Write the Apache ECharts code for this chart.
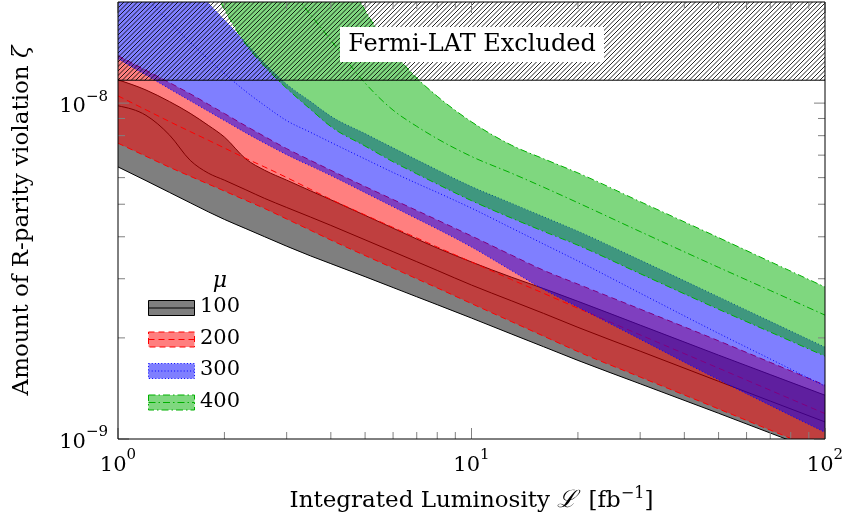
<!DOCTYPE html>
<html>
<head>
<meta charset="utf-8">
<script src="https://cdn.jsdelivr.net/npm/echarts@6.0.0/dist/echarts.min.js"></script>
<style>
html,body{margin:0;padding:0;background:#fff;}
#c{width:845px;height:525px;}
</style>
</head>
<body>
<div id="c"></div>
<script>
// ---------------- data ----------------
const X_MIN = 1, X_MAX = 100;
const Y_MIN = 1e-9, Y_MAX = 2e-8;
const fermiLimit = 1.17e-8;          // Fermi-LAT excluded above this value
const fermiText = 'Fermi-LAT Excluded';

const xMajorTicks = [1, 10, 100];
const xMinorTicks = [2, 3, 4, 5, 6, 7, 8, 9, 20, 30, 40, 50, 60, 70, 80, 90];
const yMajorTicks = [1e-9, 1e-8];
const yMinorTicks = [2e-9, 3e-9, 4e-9, 5e-9, 6e-9, 7e-9, 8e-9, 9e-9];

const muValues = ['100', '200', '300', '400'];

// luminosity samples for the mu = 100, 200, 300 bands
const lumiA = [1, 1.2, 1.4, 1.6, 1.8, 2, 2.3, 2.6, 3, 3.5, 4, 5, 6, 7, 8, 10, 13, 16, 20, 30, 50, 70, 100];

const lower100 = [6.457e-9, 5.877e-9, 5.418e-9, 5.050e-9, 4.747e-9, 4.505e-9, 4.229e-9, 4.000e-9, 3.750e-9, 3.510e-9, 3.327e-9, 3.043e-9, 2.824e-9, 2.651e-9, 2.511e-9, 2.291e-9, 2.052e-9, 1.882e-9, 1.714e-9, 1.460e-9, 1.193e-9, 1.042e-9, 0.903e-9];
const center100 = [9.817e-9, 9.196e-9, 8.024e-9, 6.757e-9, 6.189e-9, 5.897e-9, 5.518e-9, 5.203e-9, 4.890e-9, 4.581e-9, 4.325e-9, 3.917e-9, 3.611e-9, 3.372e-9, 3.176e-9, 2.873e-9, 2.577e-9, 2.365e-9, 2.150e-9, 1.826e-9, 1.485e-9, 1.297e-9, 1.124e-9];
const upper100 = [11.73e-9, 10.94e-9, 10.10e-9, 9.325e-9, 8.587e-9, 7.925e-9, 6.817e-9, 6.310e-9, 5.897e-9, 5.484e-9, 5.155e-9, 4.632e-9, 4.242e-9, 3.939e-9, 3.703e-9, 3.365e-9, 3.030e-9, 2.804e-9, 2.570e-9, 2.183e-9, 1.777e-9, 1.555e-9, 1.350e-9];

const lower200 = [7.598e-9, 6.945e-9, 6.440e-9, 6.058e-9, 5.742e-9, 5.472e-9, 5.134e-9, 4.854e-9, 4.519e-9, 4.184e-9, 3.912e-9, 3.517e-9, 3.228e-9, 2.999e-9, 2.817e-9, 2.530e-9, 2.234e-9, 2.024e-9, 1.821e-9, 1.529e-9, 1.229e-9, 1.063e-9, 0.913e-9];
const center200 = [10.51e-9, 9.550e-9, 8.806e-9, 8.228e-9, 7.757e-9, 7.352e-9, 6.845e-9, 6.452e-9, 6.005e-9, 5.541e-9, 5.170e-9, 4.645e-9, 4.263e-9, 3.969e-9, 3.728e-9, 3.365e-9, 2.981e-9, 2.714e-9, 2.451e-9, 2.042e-9, 1.625e-9, 1.397e-9, 1.190e-9];
const upper200 = [13.84e-9, 12.52e-9, 11.50e-9, 10.66e-9, 9.924e-9, 9.311e-9, 8.551e-9, 7.951e-9, 7.318e-9, 6.757e-9, 6.310e-9, 5.643e-9, 5.163e-9, 4.790e-9, 4.488e-9, 4.022e-9, 3.524e-9, 3.178e-9, 2.891e-9, 2.436e-9, 1.960e-9, 1.691e-9, 1.446e-9];

const lower300 = [13.56e-9, 12.12e-9, 11.02e-9, 10.16e-9, 9.459e-9, 8.875e-9, 8.152e-9, 7.598e-9, 7.022e-9, 6.504e-9, 6.087e-9, 5.413e-9, 4.913e-9, 4.528e-9, 4.220e-9, 3.728e-9, 3.169e-9, 2.787e-9, 2.470e-9, 1.982e-9, 1.501e-9, 1.259e-9, 1.047e-9];
const upper300 = [44.77e-9, 34.72e-9, 28.07e-9, 23.31e-9, 19.88e-9, 17.67e-9, 15.10e-9, 13.12e-9, 11.39e-9, 10.12e-9, 9.141e-9, 8.113e-9, 7.358e-9, 6.780e-9, 6.322e-9, 5.643e-9, 5.029e-9, 4.587e-9, 4.156e-9, 3.409e-9, 2.649e-9, 2.240e-9, 1.877e-9];
const lumiC300 = [1.2, 1.4, 1.6, 1.8, 2, 2.3, 2.6, 3, 3.5, 4, 5, 6, 7, 8, 10, 13, 16, 20, 30, 50, 70, 100];
const center300 = [20.61e-9, 17.41e-9, 15.17e-9, 13.53e-9, 12.25e-9, 10.83e-9, 9.836e-9, 8.869e-9, 8.190e-9, 7.640e-9, 6.817e-9, 6.215e-9, 5.770e-9, 5.421e-9, 4.866e-9, 4.242e-9, 3.806e-9, 3.388e-9, 2.718e-9, 2.063e-9, 1.731e-9, 1.436e-9];

// mu = 400 band
const lumiB = [1.8, 2, 2.3, 2.6, 3, 3.5, 4, 5, 6, 7, 8, 10, 13, 16, 20, 30, 50, 70, 100];
const lower400 = [23.64e-9, 19.02e-9, 14.98e-9, 12.86e-9, 11.07e-9, 9.596e-9, 8.516e-9, 7.450e-9, 6.688e-9, 6.159e-9, 5.742e-9, 5.124e-9, 4.544e-9, 4.151e-9, 3.775e-9, 3.106e-9, 2.433e-9, 2.082e-9, 1.765e-9];
const upper400 = [316.6e-9, 224.6e-9, 143.8e-9, 98.56e-9, 65.28e-9, 43.25e-9, 30.68e-9, 18.87e-9, 14.25e-9, 11.87e-9, 10.48e-9, 8.795e-9, 7.486e-9, 6.826e-9, 6.197e-9, 5.089e-9, 3.977e-9, 3.373e-9, 2.834e-9];
const lumiC400 = [3, 3.5, 4, 5, 6, 7, 8, 10, 13, 16, 20, 30, 50, 70, 100];
const center400 = [22.45e-9, 18.36e-9, 15.40e-9, 11.47e-9, 9.530e-9, 8.528e-9, 7.834e-9, 6.936e-9, 6.180e-9, 5.617e-9, 5.050e-9, 4.145e-9, 3.243e-9, 2.768e-9, 2.338e-9];

// ---------------- styling ----------------
const FONT = '"DejaVu Serif", "Liberation Serif", serif';
const STYLE = {
  '100': { color: '#000000', fill: 'rgba(0,0,0,0.5)', dash: null },
  '200': { color: '#ff0000', fill: 'rgba(255,0,0,0.5)', dash: [6, 4] },
  '300': { color: '#0000ff', fill: 'rgba(0,0,255,0.5)', dash: [1, 2.2] },
  '400': { color: '#00b000', fill: 'rgba(0,176,0,0.5)', dash: [7, 3, 1.5, 3] }
};

// monotone-in-x cubic curve through screen points (drawing only)
function monoSegs(P) {
  const n = P.length, m = new Array(n), sec = [];
  const sgn = v => (v < 0 ? -1 : v > 0 ? 1 : 0);
  for (let i = 0; i < n - 1; i++) sec.push((P[i + 1][1] - P[i][1]) / (P[i + 1][0] - P[i][0]));
  for (let i = 1; i < n - 1; i++) {
    const h0 = P[i][0] - P[i - 1][0], h1 = P[i + 1][0] - P[i][0], s0 = sec[i - 1], s1 = sec[i];
    const p = (s0 * h1 + s1 * h0) / (h0 + h1);
    m[i] = (sgn(s0) + sgn(s1)) * Math.min(Math.abs(s0), Math.abs(s1), 0.5 * Math.abs(p)) || 0;
  }
  m[0] = n > 2 ? (3 * sec[0] - m[1]) / 2 : sec[0];
  m[n - 1] = n > 2 ? (3 * sec[n - 2] - m[n - 2]) / 2 : sec[n - 2];
  const segs = [];
  for (let i = 0; i < n - 1; i++) {
    const dx = (P[i + 1][0] - P[i][0]) / 3;
    segs.push([P[i], [P[i][0] + dx, P[i][1] + m[i] * dx], [P[i + 1][0] - dx, P[i + 1][1] - m[i + 1] * dx], P[i + 1]]);
  }
  return segs;
}
const f = v => v.toFixed(2);
function fwdPath(segs, start) {
  let d = (start ? 'M ' : 'L ') + f(segs[0][0][0]) + ' ' + f(segs[0][0][1]);
  segs.forEach(s => { d += ' C ' + f(s[1][0]) + ' ' + f(s[1][1]) + ' ' + f(s[2][0]) + ' ' + f(s[2][1]) + ' ' + f(s[3][0]) + ' ' + f(s[3][1]); });
  return d;
}
function bwdPath(segs) {
  const last = segs[segs.length - 1][3];
  let d = ' L ' + f(last[0]) + ' ' + f(last[1]);
  for (let i = segs.length - 1; i >= 0; i--) {
    const s = segs[i];
    d += ' C ' + f(s[2][0]) + ' ' + f(s[2][1]) + ' ' + f(s[1][0]) + ' ' + f(s[1][1]) + ' ' + f(s[0][0]) + ' ' + f(s[0][1]);
  }
  return d;
}

function band(key, xs, lo, up, xc, ce) {
  const st = STYLE[key];
  return {
    type: 'custom', name: 'mu ' + key, coordinateSystem: 'cartesian2d', clip: true, silent: true,
    animation: false, z: 2,
    data: [[xs[0], lo[0]]],
    renderItem: function (params, api) {
      const upS = monoSegs(xs.map((x, i) => api.coord([x, up[i]])));
      const loS = monoSegs(xs.map((x, i) => api.coord([x, lo[i]])));
      const cS = monoSegs(xc.map((x, i) => api.coord([x, ce[i]])));
      const line = { stroke: st.color, lineWidth: 1, lineDash: st.dash, fill: null };
      return { type: 'group', children: [
        { type: 'path', shape: { pathData: fwdPath(upS, true) + bwdPath(loS) + ' Z' }, style: { fill: st.fill, stroke: null } },
        { type: 'path', shape: { pathData: fwdPath(loS, true) }, style: line },
        { type: 'path', shape: { pathData: fwdPath(upS, true) }, style: line },
        { type: 'path', shape: { pathData: fwdPath(cS, true) }, style: line }
      ]};
    }
  };
}

// hatch pattern (north east lines)
const hatch = document.createElement('canvas');
hatch.width = 9; hatch.height = 9;
(function () {
  const g = hatch.getContext('2d');
  g.strokeStyle = '#000'; g.lineWidth = 0.85;
  for (let k = -3; k <= 3; k++) {
    const a = k * 4.5;
    g.beginPath(); g.moveTo(a, 9); g.lineTo(a + 9, 0); g.stroke();
  }
})();

function powLabel(v) {
  const e = Math.log10(v), r = Math.round(e);
  if (Math.abs(e - r) > 1e-6) return '';
  return '{b|10}{s|' + (r < 0 ? '\u2212' : '') + Math.abs(r) + '}';
}
const labelRich = {
  b: { fontFamily: FONT, fontSize: 21, color: '#000', lineHeight: 28, verticalAlign: 'bottom' },
  s: { fontFamily: FONT, fontSize: 15, color: '#000', lineHeight: 18, verticalAlign: 'top' }
};

const series = [
  band('100', lumiA, lower100, upper100, lumiA, center100),
  band('200', lumiA, lower200, upper200, lumiA, center200),
  band('300', lumiA, lower300, upper300, lumiC300, center300),
  band('400', lumiB, lower400, upper400, lumiC400, center400)
];

// hatched Fermi-LAT region
series.push({
  type: 'custom', coordinateSystem: 'cartesian2d', silent: true, z: 5, clip: true, animation: false,
  data: [[X_MIN, fermiLimit]],
  renderItem: function (params, api) {
    const p0 = api.coord([X_MIN, Y_MAX]);
    const p1 = api.coord([X_MAX, fermiLimit]);
    return { type: 'group', children: [
      { type: 'rect', shape: { x: p0[0], y: p0[1], width: p1[0] - p0[0], height: p1[1] - p0[1] },
        style: { fill: { image: hatch, repeat: 'repeat' }, stroke: null } },
      { type: 'line', shape: { x1: p0[0], y1: p1[1], x2: p1[0], y2: p1[1] }, style: { stroke: '#000', lineWidth: 1 } }
    ]};
  }
});

// ticks on all four sides + frame
series.push({
  type: 'custom', coordinateSystem: 'cartesian2d', silent: true, z: 6, clip: false, animation: false,
  data: [[X_MIN, Y_MIN]],
  renderItem: function (params, api) {
    const a = api.coord([X_MIN, Y_MIN]), b = api.coord([X_MAX, Y_MAX]);
    const left = a[0], bottom = a[1], right = b[0], top = b[1];
    const ch = [];
    const tk = (x1, y1, x2, y2) => ch.push({ type: 'line', shape: { x1, y1, x2, y2 }, style: { stroke: '#808080', lineWidth: 1 } });
    xMajorTicks.forEach(v => { const x = api.coord([v, Y_MIN])[0]; tk(x, bottom, x, bottom - 11); tk(x, top, x, top + 11); });
    xMinorTicks.forEach(v => { const x = api.coord([v, Y_MIN])[0]; tk(x, bottom, x, bottom - 7); tk(x, top, x, top + 7); });
    yMajorTicks.forEach(v => { const y = api.coord([X_MIN, v])[1]; tk(left, y, left + 11, y); tk(right, y, right - 11, y); });
    yMinorTicks.forEach(v => { const y = api.coord([X_MIN, v])[1]; tk(left, y, left + 7, y); tk(right, y, right - 7, y); });
    ch.push({ type: 'rect', shape: { x: left, y: top, width: right - left, height: bottom - top },
              style: { fill: null, stroke: '#000', lineWidth: 1 } });
    return { type: 'group', children: ch };
  }
});

// legend (drawn as graphics)
const legendY = [308, 339.5, 371, 402.5];
const graphics = [
  { type: 'rect', z: 100, shape: { x: 340, y: 27, width: 264, height: 35 }, style: { fill: '#fff' } },
  { type: 'text', z: 101, x: 472, y: 45, style: { text: fermiText, font: '24px ' + FONT, fill: '#000', align: 'center', verticalAlign: 'middle' } },
  { type: 'text', z: 101, x: 220, y: 281, style: { text: '\u03bc', font: 'italic 22px ' + FONT, fill: '#000', align: 'center', verticalAlign: 'middle' } }
];
muValues.forEach((k, i) => {
  const cy = legendY[i];
  const st = STYLE[k];
  graphics.push({ type: 'rect', z: 100, shape: { x: 148.5, y: cy - 7.5, width: 46, height: 15 },
                  style: { fill: st.fill, stroke: st.color, lineWidth: 1, lineDash: st.dash } });
  graphics.push({ type: 'line', z: 100, shape: { x1: 148.5, y1: cy, x2: 194.5, y2: cy },
                  style: { stroke: st.color, lineWidth: 1, lineDash: st.dash } });
  graphics.push({ type: 'text', z: 101, x: 200, y: cy - 1, style: { text: k, font: '21px ' + FONT, fill: '#000', align: 'left', verticalAlign: 'middle' } });
});

const option = {
  animation: false,
  backgroundColor: '#fff',
  grid: { left: 118, right: 20, top: 2, bottom: 86, containLabel: false, outerBoundsMode: 'none', show: false },
  xAxis: {
    type: 'log', logBase: 10, min: X_MIN, max: X_MAX,
    axisLine: { show: false }, axisTick: { show: false }, splitLine: { show: false }, minorTick: { show: false },
    axisLabel: { margin: 9, formatter: powLabel, rich: labelRich, showMinLabel: true, showMaxLabel: true, hideOverlap: false },
    name: 'Integrated Luminosity {c|\u2112} [fb{s|\u22121}]',
    nameLocation: 'middle', nameGap: 47, nameMoveOverlap: false,
    nameTextStyle: { fontFamily: FONT, fontSize: 23, color: '#000', lineHeight: 30,
      rich: { c: { fontFamily: FONT, fontSize: 24, color: '#000', fontStyle: 'italic', lineHeight: 30, padding: [0, 4, 0, 0] },
              s: { fontFamily: FONT, fontSize: 16, color: '#000', lineHeight: 20, verticalAlign: 'top' } } }
  },
  yAxis: {
    type: 'log', logBase: 10, min: Y_MIN, max: Y_MAX,
    axisLine: { show: false }, axisTick: { show: false }, splitLine: { show: false }, minorTick: { show: false },
    axisLabel: { margin: 10, formatter: powLabel, rich: labelRich, showMinLabel: true, showMaxLabel: true, hideOverlap: false },
    name: 'Amount of R-parity violation {g|\u03b6}',
    nameLocation: 'middle', nameGap: 82, nameMoveOverlap: false,
    nameTextStyle: { fontFamily: FONT, fontSize: 23, color: '#000', lineHeight: 28,
      rich: { g: { fontFamily: FONT, fontSize: 23, color: '#000', fontStyle: 'italic', lineHeight: 28 } } }
  },
  tooltip: { show: false },
  legend: { show: false },
  series: series,
  graphic: graphics
};

const chart = echarts.init(document.getElementById('c'), null, { renderer: 'canvas' });
chart.setOption(option);
</script>
</body>
</html>
